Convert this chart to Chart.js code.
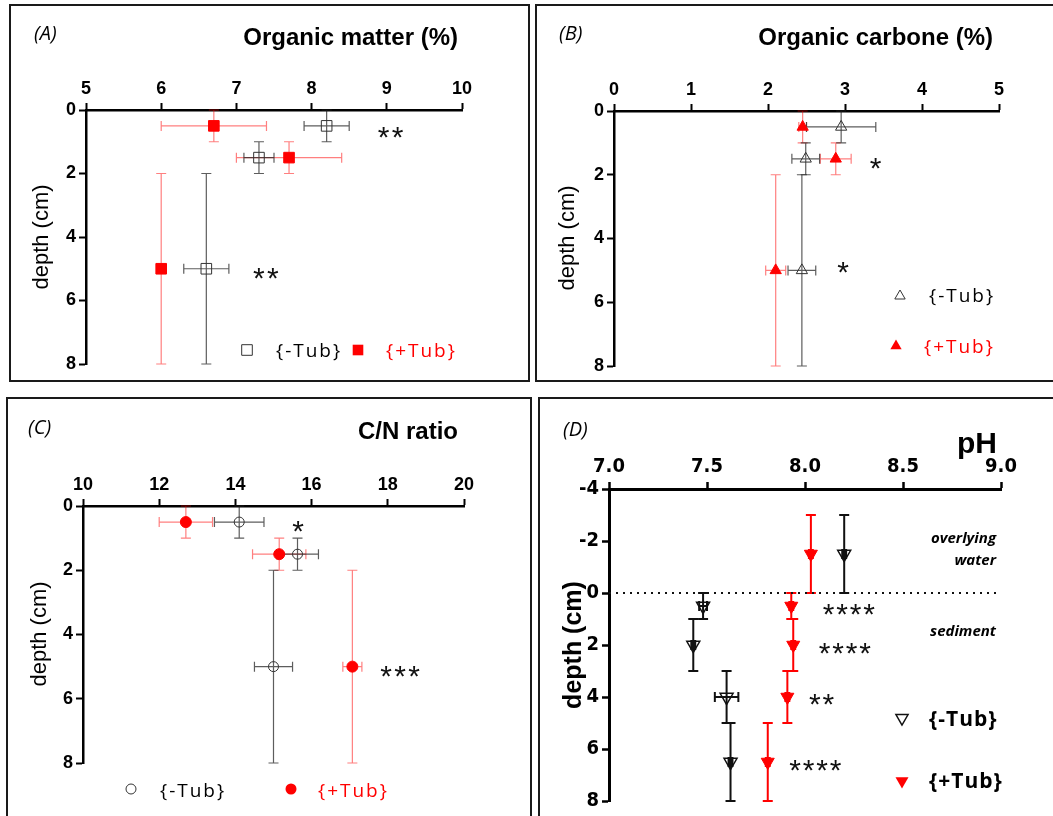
<!DOCTYPE html>
<html>
<head>
<meta charset="utf-8">
<script src="https://cdn.jsdelivr.net/npm/chart.js@4.4.1/dist/chart.umd.min.js"></script>
<style>
  html, body { margin: 0; padding: 0; background: #fff; }
  body { width: 1053px; height: 816px; position: relative; overflow: hidden; }
  .panel { position: absolute; box-sizing: border-box; border: 2px solid #1a1a1a; }
  canvas { position: absolute; left: 0; top: 0; }
</style>
</head>
<body>
<div class="panel" style="left:9px;top:4px;width:521px;height:378px"></div>
<div class="panel" style="left:535px;top:4px;width:530px;height:378px"></div>
<div class="panel" style="left:6px;top:397px;width:526px;height:500px"></div>
<div class="panel" style="left:538px;top:397px;width:530px;height:500px"></div>
<canvas id="chartA" width="1053" height="816"></canvas>
<canvas id="chartB" width="1053" height="816"></canvas>
<canvas id="chartC" width="1053" height="816"></canvas>
<canvas id="chartD" width="1053" height="816"></canvas>
<script>
// depth layers (cm) and half-ranges for panels A-C
const depthABC = [0.5, 1.5, 5];
const depthErrABC = [0.5, 0.5, 3];

// (A) organic matter %
const omMinus = [8.2, 7.3, 6.6];
const omMinusErr = [0.3, 0.2, 0.3];
const omPlus = [6.7, 7.7, 6.0];
const omPlusErr = [0.7, 0.7, 0.03];

// (B) organic carbone %
const ocMinus = [2.95, 2.49, 2.44];
const ocMinusErr = [0.45, 0.18, 0.18];
const ocPlus = [2.45, 2.88, 2.1];
const ocPlusErr = [0.05, 0.2, 0.13];

// (C) C/N ratio
const cnMinus = [14.1, 15.63, 15.0];
const cnMinusErr = [0.65, 0.55, 0.5];
const cnPlus = [12.7, 15.15, 17.07];
const cnPlusErr = [0.7, 0.7, 0.25];

// (D) pH, overlying water + sediment
const depthD = [-1.5, 0.5, 2, 4, 6.5];
const depthErrD = [1.5, 0.5, 1, 1, 1.5];
const phMinus = [8.2, 7.48, 7.43, 7.6, 7.62];
const phMinusErr = [0.01, 0.02, 0.01, 0.06, 0.01];
const phPlus = [8.03, 7.93, 7.94, 7.91, 7.81];
const phPlusErr = [0.01, 0.01, 0.01, 0.01, 0.01];

// significance marks (x value, depth)
const starsA = [{ x: 8.88, y: 0.6, t: "**" }, { x: 7.22, y: 5.04, t: "**" }];
const starsB = [{ x: 3.32, y: 1.54, t: "*" }, { x: 2.9, y: 4.83, t: "*" }];
const starsC = [{ x: 15.49, y: 0.53, t: "*" }, { x: 17.8, y: 5.05, t: "***" }];
const starsD = [{ x: 8.09, y: 0.52, t: "****" }, { x: 8.07, y: 2.0, t: "****" }, { x: 8.02, y: 3.97, t: "**" }, { x: 7.92, y: 6.5, t: "****" }];

const SANS = '"Liberation Sans", Arial, sans-serif';
const NARROW = '"Liberation Sans Narrow", "DejaVu Sans Condensed", "Liberation Sans", sans-serif';
const OPEN = '"Open Sans", sans-serif';

function pts(xs, ys) {
  return xs.map((v, i) => ({ x: v, y: ys[i] }));
}

function marker(ctx, m) {
  ctx.save();
  ctx.beginPath();
  if (m.shape === "rect") {
    const s = m.r * Math.SQRT1_2;
    ctx.rect(m.x - s, m.y - s, 2 * s, 2 * s);
  } else if (m.shape === "circle") {
    ctx.arc(m.x, m.y, m.r, 0, Math.PI * 2);
  } else {
    const dir = m.down ? -1 : 1;
    for (let k = 0; k < 3; k++) {
      const a = k * 2 * Math.PI / 3;
      const px = m.x + Math.sin(a) * m.r * dir, py = m.y - Math.cos(a) * m.r * dir;
      k ? ctx.lineTo(px, py) : ctx.moveTo(px, py);
    }
    ctx.closePath();
  }
  if (m.fill) { ctx.fillStyle = m.fill; ctx.fill(); }
  if (m.stroke) { ctx.strokeStyle = m.stroke; ctx.lineWidth = m.lw || 1; ctx.stroke(); }
  ctx.restore();
}

function extras(cfg) {
  return {
    id: "extras",
    beforeDatasetsDraw(chart) {
      const { ctx, scales: { x, y } } = chart;
      chart.data.datasets.forEach(ds => {
        if (!ds.xErr) return;
        ctx.save();
        ctx.strokeStyle = ds.errColor;
        ctx.lineWidth = ds.errWidth;
        const c = ds.cap;
        ds.data.forEach((p, i) => {
          const px = x.getPixelForValue(p.x), py = y.getPixelForValue(p.y);
          const x0 = x.getPixelForValue(p.x - ds.xErr[i]), x1 = x.getPixelForValue(p.x + ds.xErr[i]);
          const y0 = y.getPixelForValue(p.y - ds.yErr[i]), y1 = y.getPixelForValue(p.y + ds.yErr[i]);
          ctx.beginPath();
          ctx.moveTo(x0, py); ctx.lineTo(x1, py);
          ctx.moveTo(x0, py - c); ctx.lineTo(x0, py + c);
          ctx.moveTo(x1, py - c); ctx.lineTo(x1, py + c);
          ctx.moveTo(px, y0); ctx.lineTo(px, y1);
          ctx.moveTo(px - c, y0); ctx.lineTo(px + c, y0);
          ctx.moveTo(px - c, y1); ctx.lineTo(px + c, y1);
          ctx.stroke();
        });
        ctx.restore();
      });
    },
    afterDraw(chart) {
      const { ctx, scales: { x, y } } = chart;
      ctx.save();
      cfg.texts.forEach(t => {
        ctx.save();
        ctx.font = t.font;
        ctx.fillStyle = t.color || "#000";
        ctx.textAlign = t.align || "left";
        ctx.textBaseline = "alphabetic";
        if (t.spacing) ctx.letterSpacing = t.spacing;
        ctx.translate(t.x, t.y);
        if (t.rot) ctx.rotate(t.rot);
        ctx.fillText(t.text, 0, 0);
        ctx.restore();
      });
      ctx.font = cfg.starFont;
      ctx.fillStyle = "#111";
      ctx.textAlign = "left";
      cfg.stars.forEach(s => {
        const px = x.getPixelForValue(s.x), py = y.getPixelForValue(s.y);
        for (let i = 0; i < s.t.length; i++) {
          ctx.fillText("*", px + i * cfg.starStep, py + cfg.starShift);
        }
      });
      cfg.markers.forEach(m => marker(ctx, m));
      ctx.restore();
    }
  };
}

function axis(opts) {
  return {
    type: "linear",
    position: opts.position,
    reverse: !!opts.reverse,
    min: opts.min,
    max: opts.max,
    ticks: {
      stepSize: opts.step,
      color: "#000",
      padding: 3,
      font: opts.font,
      callback: opts.fmt || (v => v)
    },
    grid: { drawOnChartArea: false, tickLength: 7, tickWidth: opts.lw - 0.5, tickColor: "#000" },
    border: { color: "#000", width: opts.lw },
    afterFit: s => { if (opts.position === "top") s.height = 40; else s.width = 40; }
  };
}

function makePanel(id, area, xAx, yAx, datasets, cfg) {
  new Chart(document.getElementById(id), {
    type: "scatter",
    data: { datasets },
    options: {
      responsive: false,
      animation: false,
      events: [],
      layout: { padding: { left: area[0] - 40, top: area[1] - 40, right: 1053 - area[2], bottom: 816 - area[3] } },
      scales: { x: axis(xAx), y: axis(yAx) },
      plugins: { legend: { display: false }, tooltip: { enabled: false } }
    },
    plugins: [extras(cfg)]
  });
}

const tickFont = { family: SANS, size: 18, weight: "bold" };
const greyErr = "rgba(30,30,30,0.72)";
const redErr = "rgba(255,0,0,0.5)";

function openSet(xs, errs, ys, yerrs, style, r) {
  return {
    data: pts(xs, ys), xErr: errs, yErr: yerrs, errColor: greyErr, errWidth: 1.2, cap: 5,
    pointStyle: style, pointRadius: r, pointBackgroundColor: "rgba(0,0,0,0)",
    pointBorderColor: "#333", pointBorderWidth: 1
  };
}
function fillSet(xs, errs, ys, yerrs, style, r) {
  return {
    data: pts(xs, ys), xErr: errs, yErr: yerrs, errColor: redErr, errWidth: 1.2, cap: 5,
    pointStyle: style, pointRadius: r, pointBackgroundColor: "#ff0000",
    pointBorderColor: "#ff0000", pointBorderWidth: 1
  };
}

const legFont = "19px " + OPEN;
const starFont = "30px " + SANS;

// (A)
makePanel("chartA", [86, 110, 462, 364],
  { position: "top", min: 5, max: 10, step: 1, font: tickFont, lw: 2.5 },
  { position: "left", reverse: true, min: 0, max: 8, step: 2, font: tickFont, lw: 2.5 },
  [fillSet(omPlus, omPlusErr, depthABC, depthErrABC, "rect", 7.5),
   openSet(omMinus, omMinusErr, depthABC, depthErrABC, "rect", 7.5)],
  {
    starFont, starStep: 14, starShift: 17.5, stars: starsA,
    texts: [
      { text: "(A)", x: 34, y: 40, font: "italic 20px " + OPEN },
      { text: "Organic matter (%)", x: 458, y: 45, align: "right", font: "bold 24px " + SANS },
      { text: "depth (cm)", x: 48, y: 237, rot: -Math.PI / 2, align: "center", font: "22px " + SANS },
      { text: "{-Tub}", x: 276, y: 357, font: legFont, spacing: "2px" },
      { text: "{+Tub}", x: 386, y: 357, font: legFont, spacing: "2px", color: "#ff0000" }
    ],
    markers: [
      { shape: "rect", x: 247, y: 350, r: 7.5, stroke: "#333" },
      { shape: "rect", x: 358, y: 350, r: 7.5, fill: "#ff0000" }
    ]
  });

// (B)
makePanel("chartB", [614, 111, 999, 366],
  { position: "top", min: 0, max: 5, step: 1, font: tickFont, lw: 2.5 },
  { position: "left", reverse: true, min: 0, max: 8, step: 2, font: tickFont, lw: 2.5 },
  [fillSet(ocPlus, ocPlusErr, depthABC, depthErrABC, "triangle", 6.5),
   openSet(ocMinus, ocMinusErr, depthABC, depthErrABC, "triangle", 6.5)],
  {
    starFont, starStep: 14, starShift: 17.5, stars: starsB,
    texts: [
      { text: "(B)", x: 559, y: 40, font: "italic 20px " + OPEN },
      { text: "Organic carbone (%)", x: 993, y: 45, align: "right", font: "bold 24px " + SANS },
      { text: "depth (cm)", x: 574, y: 238, rot: -Math.PI / 2, align: "center", font: "22px " + SANS },
      { text: "{-Tub}", x: 929, y: 302, font: legFont, spacing: "2px" },
      { text: "{+Tub}", x: 924, y: 353, font: legFont, spacing: "2px", color: "#ff0000" }
    ],
    markers: [
      { shape: "tri", x: 900, y: 296, r: 6, stroke: "#333" },
      { shape: "tri", x: 896, y: 346, r: 6.5, fill: "#ff0000" }
    ]
  });

// (C)
makePanel("chartC", [83, 506, 464, 763],
  { position: "top", min: 10, max: 20, step: 2, font: tickFont, lw: 2.5 },
  { position: "left", reverse: true, min: 0, max: 8, step: 2, font: tickFont, lw: 2.5 },
  [fillSet(cnPlus, cnPlusErr, depthABC, depthErrABC, "circle", 5.5),
   openSet(cnMinus, cnMinusErr, depthABC, depthErrABC, "circle", 5)],
  {
    starFont, starStep: 14, starShift: 17.5, stars: starsC,
    texts: [
      { text: "(C)", x: 28, y: 434, font: "italic 20px " + OPEN },
      { text: "C/N ratio", x: 458, y: 439, align: "right", font: "bold 24px " + SANS },
      { text: "depth (cm)", x: 46, y: 634, rot: -Math.PI / 2, align: "center", font: "22px " + SANS },
      { text: "{-Tub}", x: 160, y: 797, font: legFont, spacing: "2px" },
      { text: "{+Tub}", x: 318, y: 797, font: legFont, spacing: "2px", color: "#ff0000" }
    ],
    markers: [
      { shape: "circle", x: 131, y: 789, r: 5, stroke: "#333" },
      { shape: "circle", x: 291, y: 789, r: 5.5, fill: "#ff0000" }
    ]
  });

// (D)
const narrowFont = { family: NARROW, size: 20, weight: "bold" };
makePanel("chartD", [609, 489, 1001, 802],
  { position: "top", min: 7, max: 9, step: 0.5, font: narrowFont, lw: 3, fmt: v => v.toFixed(1) },
  { position: "left", reverse: true, min: -4, max: 8, step: 2, font: narrowFont, lw: 3 },
  [
    { type: "line", showLine: true, data: [{ x: 7, y: 0 }, { x: 8.98, y: 0 }], borderColor: "#111",
      borderWidth: 2, borderDash: [2, 5], pointRadius: 0 },
    { data: pts(phPlus, depthD), xErr: phPlusErr, yErr: depthErrD, errColor: "#ff0000", errWidth: 2, cap: 5,
      pointStyle: "triangle", pointRotation: 180, pointRadius: 7.5, pointBackgroundColor: "#ff0000",
      pointBorderColor: "#ff0000", pointBorderWidth: 1 },
    { data: pts(phMinus, depthD), xErr: phMinusErr, yErr: depthErrD, errColor: "#111", errWidth: 2, cap: 5,
      pointStyle: "triangle", pointRotation: 180, pointRadius: 7.5, pointBackgroundColor: "rgba(0,0,0,0)",
      pointBorderColor: "#111", pointBorderWidth: 1.5 }
  ],
  {
    starFont, starStep: 13.5, starShift: 17.5, stars: starsD,
    texts: [
      { text: "(D)", x: 563, y: 436, font: "italic 20px " + OPEN },
      { text: "pH", x: 997, y: 453, align: "right", font: "bold 30px " + SANS },
      { text: "depth (cm)", x: 581, y: 645, rot: -Math.PI / 2, align: "center", font: "bold 25px " + SANS },
      { text: "overlying", x: 996, y: 543, align: "right", font: "italic bold 15px " + OPEN },
      { text: "water", x: 996, y: 565, align: "right", font: "italic bold 15px " + OPEN },
      { text: "sediment", x: 996, y: 636, align: "right", font: "italic bold 15px " + OPEN },
      { text: "{-Tub}", x: 929, y: 726, font: "bold 21px " + OPEN, spacing: "1px" },
      { text: "{+Tub}", x: 929, y: 788, font: "bold 21px " + OPEN, spacing: "1px" }
    ],
    markers: [
      { shape: "tri", down: true, x: 902, y: 718, r: 7, stroke: "#111", lw: 1.5 },
      { shape: "tri", down: true, x: 902, y: 781, r: 7.5, fill: "#ff0000" }
    ]
  });
</script>
</body>
</html>
